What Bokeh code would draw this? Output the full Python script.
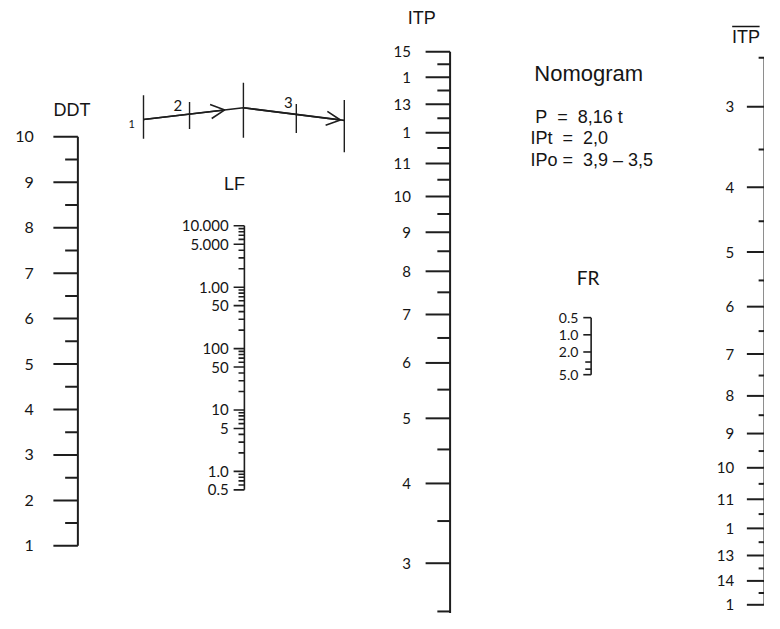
import numpy as np
from bokeh.plotting import figure
from bokeh.models import Range1d, LogScale, Arrow, OpenHead
from bokeh.core.properties import value
from bokeh.embed import file_html
from bokeh.resources import INLINE

# ---------------- data ----------------
ddt_values = [1, 2, 3, 4, 5, 6, 7, 8, 9, 10]
ddt_labels = ["1", "2", "3", "4", "5", "6", "7", "8", "9", "10"]
ddt_minor = [1.5, 2.5, 3.5, 4.5, 5.5, 6.5, 7.5, 8.5, 9.5]

lf_values = [0.5, 1, 5, 10, 50, 100, 500, 1000, 5000, 10000]
lf_labels = ["0.5", "1.0", "5", "10", "50", "100", "50", "1.00", "5.000", "10.000"]
lf_minor = [0.6, 0.7, 0.8, 0.9, 2, 3, 4, 6, 7, 8, 9, 20, 30, 40, 60, 70, 80, 90,
            200, 300, 400, 600, 700, 800, 900, 2000, 3000, 4000, 6000, 7000, 8000, 9000]

itp_values = [3, 4, 5, 6, 7, 8, 9, 10, 11, 12, 13, 14, 15]
itp_labels = ["3", "4", "5", "6", "7", "8", "9", "10", "11", "1", "13", "1", "15"]
itp_minor = [2.5, 3.5, 4.5, 5.5, 6.5, 7.5, 8.5, 9.5, 10.5, 11.5, 12.5, 13.5, 14.5]

itpb_values = [3, 4, 5, 6, 7, 8, 9, 10, 11, 12, 13, 14, 15]
itpb_labels = ["3", "4", "5", "6", "7", "8", "9", "10", "11", "1", "13", "14", "1"]
itpb_minor = [2.5, 3.5, 4.5, 5.5, 6.5, 7.5, 8.5, 9.5, 10.5, 11.5, 12.5, 13.5, 14.5]

fr_values = [0.5, 1.0, 2.0, 5.0]
fr_labels = ["0.5", "1.0", "2.0", "5.0"]
fr_minor = [3.0, 4.0]

title_text = "Nomogram"
NB = "\u00a0"
note_lines = ["P" + NB * 2 + "=" + NB * 2 + "8,16 t",
              "IPt" + NB * 2 + "=" + NB * 2 + "2,0",
              "IPo =" + NB * 2 + "3,9 \u2013 3,5"]

# ---------------- layout ----------------
W, H = 764, 613
Y_TOP, Y_BOT = 0, 634
INK = "#1e1e1e"
TXT = "#151515"

def lin_range(u0, y0, ppu):
    """(bottom, top) range for a scale where value u0 sits at reference-y y0, ppu px per unit upward."""
    return (u0 - (Y_BOT - y0) / ppu, u0 + (y0 - Y_TOP) / ppu)

P_MID = 0.2
P_RIGHT = 0.15
tr_mid = lambda v: np.asarray(v, dtype=float) ** P_MID
tr_right = lambda v: np.asarray(v, dtype=float) ** P_RIGHT
tr_id = lambda v: np.asarray(v, dtype=float)

ddt_r = lin_range(1, 564, 47.0)
lf_r = lin_range(0.0, 487, 63.5)
fr_r = lin_range(np.log10(0.5), 328, -59.0)
mid_ppu = (582 - 53) / (15 ** P_MID - 3 ** P_MID)
mid_r = lin_range(3 ** P_MID, 582, mid_ppu)
right_ppu = -(625 - 110) / (15 ** P_RIGHT - 3 ** P_RIGHT)
right_r = lin_range(3 ** P_RIGHT, 110, right_ppu)

p = figure(width=W, height=H, output_backend="svg", toolbar_location=None,
           x_range=Range1d(0, 780), y_range=Range1d(Y_BOT, Y_TOP),
           x_axis_location=None, y_axis_location=None, min_border=0,
           outline_line_color=None, background_fill_color="white")
p.xgrid.visible = False
p.ygrid.visible = False

p.extra_y_ranges = {
    "ddt": Range1d(*ddt_r),
    "lf": Range1d(10 ** lf_r[0], 10 ** lf_r[1]),
    "fr": Range1d(10 ** fr_r[0], 10 ** fr_r[1]),
    "mid": Range1d(*mid_r),
    "right": Range1d(*right_r),
}
p.extra_y_scales = {"lf": LogScale(), "fr": LogScale()}


def draw_scale(name, tr, x_axis, span, majors, labels, minors, maj_len, min_len,
               lab_x, font, size, lw):
    ys = tr(span)
    p.segment(x0=x_axis, x1=x_axis, y0=float(ys[0]), y1=float(ys[1]),
              y_range_name=name, line_color=INK, line_width=lw)
    um = list(tr(majors))
    p.segment(x0=x_axis - maj_len, x1=x_axis, y0=um, y1=um,
              y_range_name=name, line_color=INK, line_width=lw)
    un = list(tr(minors))
    p.segment(x0=x_axis - min_len, x1=x_axis, y0=un, y1=un,
              y_range_name=name, line_color=INK, line_width=lw)
    p.text(x=lab_x, y=um, text=labels, y_range_name=name,
           text_align="right", text_baseline="middle",
           text_font=value(font), text_font_size=f"{size}px", text_color=TXT)


draw_scale("ddt", tr_id, 79, [1, 10], ddt_values, ddt_labels, ddt_minor,
           25, 13, 34, "Lato", 16, 2)
draw_scale("lf", tr_id, 249, [0.5, 10000], lf_values, lf_labels, lf_minor,
           11, 6, 233, "Lato", 15, 1.6)
draw_scale("mid", tr_mid, 459, [2.3, 15], itp_values, itp_labels, itp_minor,
           25, 13, 419, "Lato", 15, 2)
draw_scale("right", tr_right, 780, [2.5, 15], itpb_values, itpb_labels, itpb_minor,
           18, 6, 749, "Lato", 15, 2)
draw_scale("fr", tr_id, 603, [0.5, 5.0], fr_values, fr_labels, fr_minor,
           8, 6, 590, "Lato", 14, 1.6)

# ---------------- titles ----------------
def label(x, y, t, size, font="Liberation Sans", align="center", baseline="middle"):
    p.text(x=[x], y=[y], text=[t], text_align=align, text_baseline=baseline,
           text_font=value(font), text_font_size=f"{size}px", text_color=TXT)

label(73, 113, "DDT", 18)
label(239, 190, "LF", 18)
label(430, 18, "ITP", 18)
label(600, 286, "FR", 19, font="Lato")
label(761, 38, "ITP", 18)
p.segment(x0=747, x1=775, y0=27, y1=27, line_color=TXT, line_width=1.5)

label(545, 76, title_text, 22, align="left", baseline="alphabetic")
label(546, 120, note_lines[0], 18, align="left", baseline="alphabetic")
label(541, 142, note_lines[1], 18, align="left", baseline="alphabetic")
label(541, 165, note_lines[2], 18, align="left", baseline="alphabetic")

# ---------------- arrow diagram ----------------
bar_x = [146, 193, 248, 302, 351]
bar_top = [98, 105, 85, 107, 103]
bar_bot = [143, 133, 142, 137, 157]
p.segment(x0=bar_x, x1=bar_x, y0=bar_top, y1=bar_bot, line_color=INK, line_width=1.4)
path_x = [146, 248, 351]
path_y = [123, 111, 124]
p.line(path_x, path_y, line_color=INK, line_width=1.6)
p.add_layout(Arrow(end=OpenHead(size=14, line_color=INK, line_width=1.6),
                   x_start=146, y_start=123, x_end=229, y_end=113.2,
                   line_color=INK, line_width=1.6))
p.add_layout(Arrow(end=OpenHead(size=14, line_color=INK, line_width=1.6),
                   x_start=248, y_start=111, x_end=347, y_end=123.6,
                   line_color=INK, line_width=1.6))
label(134, 128, "1", 11, font="Lato")
label(181, 109, "2", 15, font="Lato")
label(294, 106, "3", 15, font="Lato")

open("out.html", "w").write(file_html(p, INLINE))
